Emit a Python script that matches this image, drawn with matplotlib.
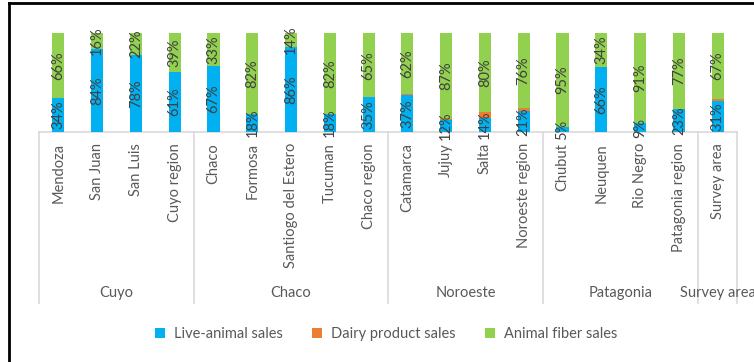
import matplotlib
matplotlib.use("Agg")
import matplotlib.pyplot as plt
from matplotlib.lines import Line2D
from matplotlib.patches import Patch
import matplotlib.transforms as mtransforms

plt.rcParams['font.family'] = ['Lato', 'DejaVu Sans']

categories = ["Mendoza", "San Juan", "San Luis", "Cuyo region",
              "Chaco", "Formosa", "Santiogo del Estero", "Tucuman", "Chaco region",
              "Catamarca", "Jujuy", "Salta", "Noroeste region",
              "Chubut", "Neuquen", "Rio Negro", "Patagonia region",
              "Survey area"]
groups = ["Cuyo", "Chaco", "Noroeste", "Patagonia", "Survey area"]
group_sizes = [4, 5, 4, 4, 1]

live = [34, 84, 78, 61, 67, 18, 86, 18, 35, 37, 12, 14, 21, 5, 66, 9, 23, 31]
dairy = [0, 0, 0, 0, 0, 0, 0, 0, 0, 1, 1, 6, 3, 0, 0, 0, 0, 2]
fiber = [66, 16, 22, 39, 33, 82, 14, 82, 65, 62, 87, 80, 76, 95, 34, 91, 77, 67]

series_names = ["Live-animal sales", "Dairy product sales", "Animal fiber sales"]
colors = ["#00B0F0", "#ED7D31", "#92D050"]

W, H = 754, 362
fig = plt.figure(figsize=(W / 100, H / 100), dpi=100)
ax = fig.add_axes([39 / W, 1 - 132 / H, (737 - 39) / W, (132 - 33) / H])

x = list(range(len(categories)))
bw = 0.31
bottoms = [0] * len(x)
for vals, col in zip([live, dairy, fiber], colors):
    ax.bar(x, vals, bw, bottom=bottoms, color=col, edgecolor='none', zorder=2)
    for i, v in enumerate(vals):
        if v > 0 and col != colors[1]:
            ax.text(i, bottoms[i] + v / 2, f"{v}%", rotation=90, ha='center', va='center',
                    fontsize=10.5, color='#404040', zorder=3)
    bottoms = [b + v for b, v in zip(bottoms, vals)]

ax.set_xlim(-0.5, len(x) - 0.5)
ax.set_ylim(0, 100)
for s in ax.spines.values():
    s.set_visible(False)
ax.set_yticks([])
ax.set_xticks(x)
ax.set_xticklabels(categories, rotation=90, fontsize=10.5, color='#595959', va='top')
ax.tick_params(axis='x', length=0, pad=8)

# axis line and group separators
lc = '#D9D9D9'
ax.plot([-0.5, len(x) - 0.5], [0, 0], color=lc, lw=1.2, clip_on=False, zorder=1)
trans = mtransforms.blended_transform_factory(ax.transData, fig.transFigure)
bounds = [-0.5]
for g in group_sizes:
    bounds.append(bounds[-1] + g)
for b in bounds:
    ax.plot([b, b], [1 - 132 / H, 1 - 303 / H], color=lc, lw=1.2, transform=trans, clip_on=False)
for gi, name in enumerate(groups):
    cx = (bounds[gi] + bounds[gi + 1]) / 2
    ax.text(cx, 1 - 293 / H, name, transform=trans, ha='center', va='center',
            fontsize=10.5, color='#595959')

handles = [Patch(facecolor=c, edgecolor='none') for c in colors]
fig.legend(handles, series_names, loc='center', bbox_to_anchor=(386 / W, 1 - 334 / H),
           ncol=3, frameon=False, fontsize=10.5, labelcolor='#595959',
           handlelength=0.7, handleheight=0.7, handletextpad=0.6, columnspacing=2.0)

# outer frame pieces
fig.add_artist(Line2D([9 / W, 9 / W], [0, 1 - 3 / H], color='black', lw=2, transform=fig.transFigure))
fig.add_artist(Line2D([9 / W, 1], [1 - 3 / H, 1 - 3 / H], color='black', lw=2, transform=fig.transFigure))

fig.savefig("out.png", dpi=100)
